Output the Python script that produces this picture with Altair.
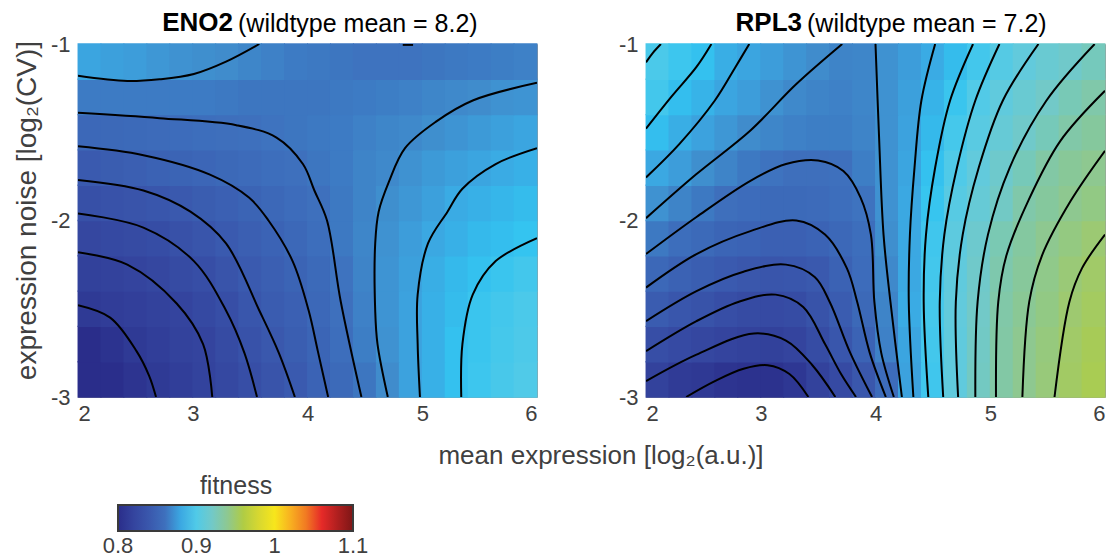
import altair as alt
import pandas as pd

# ---------------- data ----------------
X_CENTERS = [2.1, 2.3, 2.5, 2.7, 2.9, 3.1, 3.3, 3.5, 3.7, 3.9,
             4.1, 4.3, 4.5, 4.7, 4.9, 5.1, 5.3, 5.5, 5.7, 5.9]
Y_CENTERS = [-2.9, -2.7, -2.5, -2.3, -2.1, -1.9, -1.7, -1.5, -1.3, -1.1]
CELL_HALF = 0.104  # half cell size (tiny overlap hides seams)

ENO2_FITNESS = [
    [0.797, 0.801, 0.806, 0.811, 0.815, 0.819, 0.824, 0.830, 0.836, 0.842, 0.849, 0.855, 0.862, 0.870, 0.878, 0.883, 0.889, 0.893, 0.897, 0.900],
    [0.800, 0.805, 0.811, 0.815, 0.818, 0.820, 0.827, 0.834, 0.840, 0.845, 0.851, 0.858, 0.865, 0.872, 0.878, 0.883, 0.889, 0.892, 0.896, 0.899],
    [0.811, 0.814, 0.816, 0.818, 0.820, 0.825, 0.830, 0.838, 0.843, 0.847, 0.853, 0.860, 0.866, 0.873, 0.878, 0.883, 0.887, 0.892, 0.895, 0.898],
    [0.817, 0.818, 0.820, 0.823, 0.827, 0.830, 0.836, 0.842, 0.846, 0.850, 0.855, 0.861, 0.867, 0.873, 0.877, 0.882, 0.886, 0.889, 0.892, 0.895],
    [0.823, 0.825, 0.827, 0.829, 0.833, 0.837, 0.842, 0.846, 0.849, 0.853, 0.858, 0.863, 0.868, 0.872, 0.876, 0.880, 0.883, 0.886, 0.888, 0.890],
    [0.832, 0.834, 0.836, 0.838, 0.841, 0.844, 0.847, 0.850, 0.853, 0.857, 0.860, 0.863, 0.867, 0.871, 0.874, 0.877, 0.881, 0.883, 0.885, 0.887],
    [0.842, 0.844, 0.846, 0.848, 0.850, 0.852, 0.854, 0.856, 0.858, 0.860, 0.862, 0.864, 0.867, 0.869, 0.872, 0.875, 0.877, 0.879, 0.881, 0.883],
    [0.853, 0.854, 0.855, 0.856, 0.857, 0.858, 0.859, 0.860, 0.861, 0.862, 0.863, 0.864, 0.866, 0.868, 0.869, 0.871, 0.873, 0.875, 0.877, 0.879],
    [0.864, 0.864, 0.864, 0.864, 0.864, 0.864, 0.863, 0.862, 0.862, 0.862, 0.862, 0.863, 0.864, 0.865, 0.866, 0.868, 0.869, 0.870, 0.872, 0.873],
    [0.879, 0.877, 0.876, 0.874, 0.872, 0.871, 0.870, 0.868, 0.866, 0.864, 0.863, 0.862, 0.861, 0.861, 0.861, 0.862, 0.863, 0.864, 0.865, 0.866],
]

RPL3_FITNESS = [
    [0.818, 0.812, 0.810, 0.806, 0.804, 0.804, 0.809, 0.818, 0.826, 0.839, 0.857, 0.878, 0.894, 0.909, 0.922, 0.932, 0.940, 0.947, 0.953, 0.957],
    [0.830, 0.826, 0.823, 0.820, 0.818, 0.817, 0.820, 0.828, 0.838, 0.849, 0.866, 0.879, 0.895, 0.909, 0.921, 0.932, 0.940, 0.946, 0.952, 0.956],
    [0.843, 0.838, 0.835, 0.830, 0.827, 0.826, 0.828, 0.835, 0.843, 0.854, 0.867, 0.881, 0.896, 0.910, 0.920, 0.931, 0.938, 0.944, 0.950, 0.954],
    [0.853, 0.848, 0.845, 0.842, 0.839, 0.837, 0.838, 0.841, 0.848, 0.857, 0.869, 0.880, 0.895, 0.909, 0.919, 0.929, 0.936, 0.942, 0.948, 0.952],
    [0.863, 0.858, 0.855, 0.851, 0.849, 0.847, 0.847, 0.849, 0.853, 0.858, 0.871, 0.880, 0.894, 0.907, 0.917, 0.927, 0.934, 0.940, 0.945, 0.949],
    [0.872, 0.867, 0.863, 0.859, 0.857, 0.855, 0.855, 0.856, 0.858, 0.861, 0.872, 0.880, 0.891, 0.904, 0.913, 0.921, 0.930, 0.935, 0.940, 0.944],
    [0.880, 0.876, 0.871, 0.867, 0.863, 0.861, 0.859, 0.859, 0.860, 0.865, 0.872, 0.879, 0.889, 0.900, 0.910, 0.918, 0.925, 0.932, 0.937, 0.940],
    [0.888, 0.882, 0.878, 0.874, 0.870, 0.868, 0.866, 0.865, 0.865, 0.867, 0.872, 0.878, 0.886, 0.896, 0.905, 0.913, 0.919, 0.925, 0.931, 0.935],
    [0.895, 0.888, 0.884, 0.879, 0.876, 0.872, 0.869, 0.867, 0.866, 0.868, 0.872, 0.877, 0.884, 0.892, 0.901, 0.909, 0.915, 0.920, 0.926, 0.930],
    [0.898, 0.893, 0.889, 0.882, 0.879, 0.876, 0.873, 0.870, 0.867, 0.868, 0.872, 0.876, 0.881, 0.887, 0.895, 0.903, 0.910, 0.915, 0.919, 0.924],
]

# contour lines: (mean, noise) points
ENO2_CONTOURS = [
    [(2.00, -2.48), (2.28, -2.55), (2.51, -2.74), (2.62, -2.88), (2.68, -3.00)],
    [(2.00, -2.18), (2.43, -2.25), (2.86, -2.47), (3.09, -2.70), (3.17, -3.00)],
    [(2.00, -1.96), (2.57, -2.04), (3.01, -2.23), (3.29, -2.51), (3.45, -2.75), (3.56, -3.00)],
    [(2.00, -1.77), (2.57, -1.83), (2.98, -1.95), (3.29, -2.13), (3.58, -2.51), (3.75, -2.75), (3.89, -3.00)],
    [(2.00, -1.58), (2.57, -1.63), (3.15, -1.74), (3.49, -1.87), (3.66, -2.00), (3.87, -2.23), (4.01, -2.51), (4.09, -2.74), (4.18, -3.00)],
    [(2.00, -1.39), (2.71, -1.42), (3.38, -1.46), (3.73, -1.53), (3.96, -1.68), (4.06, -1.83), (4.17, -2.00), (4.29, -2.46), (4.47, -3.00)],
    [(2.00, -1.18), (2.43, -1.21), (2.71, -1.20), (3.01, -1.17), (3.29, -1.10), (3.58, -1.00)],
    [(4.70, -3.00), (4.61, -2.70), (4.59, -2.51), (4.59, -2.13), (4.62, -1.95), (4.71, -1.78), (4.85, -1.59), (5.12, -1.44), (5.44, -1.32), (6.00, -1.22)],
    [(4.98, -3.00), (4.96, -2.70), (4.96, -2.42), (5.05, -2.13), (5.22, -1.95), (5.35, -1.82), (5.64, -1.68), (6.00, -1.59)],
    [(5.34, -3.00), (5.35, -2.70), (5.44, -2.42), (5.64, -2.23), (6.00, -2.10)],
    [(4.83, -1.005), (4.92, -1.005)],
]

RPL3_CONTOURS = [
    [(2.00, -1.104), (2.06, -1.05), (2.13, -1.00)],
    [(2.00, -1.48), (2.22, -1.30), (2.44, -1.13), (2.57, -1.00)],
    [(2.00, -1.756), (2.29, -1.567), (2.60, -1.32), (2.78, -1.13), (2.90, -1.00)],
    [(2.00, -1.987), (2.44, -1.737), (2.91, -1.49), (3.31, -1.227), (3.71, -1.00)],
    [(2.00, -2.19), (2.44, -1.98), (2.91, -1.775), (3.22, -1.68), (3.50, -1.66), (3.72, -1.72), (3.87, -1.87), (3.96, -2.08), (3.99, -2.46), (4.05, -2.75), (4.16, -3.00)],
    [(2.00, -2.38), (2.44, -2.19), (2.91, -2.06), (3.31, -2.00), (3.56, -2.08), (3.75, -2.27), (3.84, -2.46), (3.95, -2.75), (4.09, -3.00)],
    [(2.00, -2.57), (2.44, -2.40), (2.85, -2.29), (3.22, -2.25), (3.47, -2.32), (3.60, -2.46), (3.78, -2.75), (3.97, -3.00)],
    [(2.00, -2.74), (2.44, -2.57), (2.81, -2.46), (3.13, -2.42), (3.37, -2.49), (3.56, -2.70), (3.70, -2.87), (3.83, -3.00)],
    [(2.00, -2.91), (2.44, -2.76), (2.94, -2.64), (3.22, -2.68), (3.45, -2.82), (3.65, -3.00)],
    [(2.35, -3.00), (2.60, -2.91), (2.85, -2.84), (3.06, -2.82), (3.25, -2.87), (3.415, -3.00)],
    [(4.00, -1.00), (4.03, -1.51), (4.07, -2.08), (4.13, -2.46), (4.23, -3.00)],
    [(4.52, -1.00), (4.40, -1.32), (4.34, -1.70), (4.30, -2.08), (4.29, -2.46), (4.33, -3.00)],
    [(4.85, -1.00), (4.65, -1.32), (4.52, -1.70), (4.44, -2.08), (4.42, -2.46), (4.46, -3.00)],
    [(5.08, -1.00), (4.87, -1.32), (4.71, -1.70), (4.60, -2.08), (4.56, -2.46), (4.59, -3.00)],
    [(5.42, -1.00), (5.11, -1.32), (4.90, -1.70), (4.76, -2.08), (4.70, -2.46), (4.72, -3.00)],
    [(5.91, -1.00), (5.49, -1.32), (5.17, -1.70), (4.98, -2.08), (4.89, -2.46), (4.87, -3.00)],
    [(6.00, -1.265), (5.61, -1.55), (5.33, -1.89), (5.14, -2.20), (5.07, -2.46), (5.05, -3.00)],
    [(6.00, -1.605), (5.70, -1.89), (5.45, -2.20), (5.34, -2.46), (5.28, -3.00)],
    [(6.00, -2.08), (5.80, -2.27), (5.69, -2.46), (5.56, -3.00)],
]

X_TICKS = [2, 3, 4, 5, 6]
Y_TICKS = [-3, -2, -1]
CBAR_LABELS = [0.8, 0.9, 1.0, 1.1]
CBAR_LABEL_TEXT = ["0.8", "0.9", "1", "1.1"]
CBAR_MINOR = [0.85, 0.9, 0.95, 1.0, 1.05]
CBAR_MIN, CBAR_MAX = 0.8, 1.1
COLOR_STOPS = [0.80, 0.82, 0.84, 0.86, 0.87, 0.88, 0.89, 0.90, 0.91, 0.92, 0.93, 0.94, 0.95, 0.96,
               0.98, 1.00, 1.03, 1.06, 1.10]
COLOR_VALUES = ["#2a2d8a", "#34449e", "#3a58ad", "#3e70bd", "#408ccc", "#3ba8e2", "#34c4f0", "#50cae8",
                "#62cadc", "#72c9c8", "#80c8aa", "#8ec890", "#9ec970", "#b0cc44",
                "#d8d830", "#f7e61c", "#f3982a", "#e62a28", "#7d1616"]

PANELS = [
    ("ENO2", "(wildtype mean = 8.2)", ENO2_FITNESS, ENO2_CONTOURS),
    ("RPL3", "(wildtype mean = 7.2)", RPL3_FITNESS, RPL3_CONTOURS),
]

FONT = "Liberation Sans"
GREY = "#404040"
W, H = 459, 353
# colorbar geometry (pixels, relative to the left panel's plot area)
CB_X, CB_Y, CB_LEN, CB_THICK = 40, 459, 235, 26


def cells_frame(grid):
    rows = []
    for yi, yc in enumerate(Y_CENTERS):
        for xi, xc in enumerate(X_CENTERS):
            rows.append({"x0": xc - CELL_HALF, "x1": xc + CELL_HALF,
                         "y0": yc - CELL_HALF, "y1": yc + CELL_HALF,
                         "fitness": grid[yi][xi]})
    return pd.DataFrame(rows)


def lines_frame(contours):
    rows = []
    for ci, pts in enumerate(contours):
        for pi, (mx, ny) in enumerate(pts):
            rows.append({"line": ci, "i": pi, "mx": mx, "ny": ny})
    return pd.DataFrame(rows)


def cb_px(v):
    return CB_X + (v - CBAR_MIN) / (CBAR_MAX - CBAR_MIN) * CB_LEN


def panel(idx):
    gene, rest, grid, contours = PANELS[idx]
    xs = alt.Scale(domain=[2, 6], nice=False, zero=False)
    ys = alt.Scale(domain=[-3, -1], nice=False, zero=False)
    color_scale = alt.Scale(domain=COLOR_STOPS, range=COLOR_VALUES, clamp=True)
    if idx == 0:
        legend = alt.Legend(
            title="fitness", orient="none", direction="horizontal",
            legendX=CB_X, legendY=CB_Y - 29, gradientLength=CB_LEN, gradientThickness=CB_THICK,
            gradientStrokeColor="#3a3a3a", gradientStrokeWidth=2,
            values=CBAR_LABELS, labelOpacity=0, labelFontSize=1,
            titleFont=FONT, titleFontSize=25, titleFontWeight="normal", titleColor=GREY,
            titleAnchor="middle", titlePadding=6,
        )
        yaxis = alt.Axis(values=Y_TICKS, labelExpr="datum.value", title="expression noise [log₂(CV)]",
                         titleFont=FONT, titleFontSize=28, titleFontWeight="normal", titleColor=GREY,
                         titlePadding=9, titleY=166,
                         labelFont=FONT, labelFontSize=22, labelColor=GREY, labelPadding=8,
                         ticks=False, domain=False, grid=False)
    else:
        legend = None
        yaxis = alt.Axis(values=Y_TICKS, labelExpr="datum.value", title=None,
                         labelFont=FONT, labelFontSize=22, labelColor=GREY, labelPadding=8,
                         ticks=False, domain=False, grid=False)
    xaxis = alt.Axis(values=X_TICKS, labelExpr="datum.value", title=None, labelFont=FONT,
                     labelFontSize=22, labelColor=GREY,
                     labelPadding=6, ticks=False, domain=False, grid=False)

    heat = alt.Chart(cells_frame(grid)).mark_rect(strokeWidth=0).encode(
        x=alt.X("x0:Q", scale=xs, axis=xaxis),
        x2="x1:Q",
        y=alt.Y("y0:Q", scale=ys, axis=yaxis),
        y2="y1:Q",
        color=alt.Color("fitness:Q", scale=color_scale, legend=legend),
    )
    lines = alt.Chart(lines_frame(contours)).mark_line(
        color="black", strokeWidth=2, interpolate="catmull-rom", clip=True
    ).encode(
        x=alt.X("mx:Q", scale=xs),
        y=alt.Y("ny:Q", scale=ys),
        detail="line:N",
        order="i:Q",
    )
    split = 155 if idx == 0 else 156
    t1 = alt.Chart(pd.DataFrame({"t": [gene]})).mark_text(
        font=FONT, fontSize=26, fontWeight="bold", align="right", baseline="middle", color="black"
    ).encode(text="t:N", x=alt.value(split), y=alt.value(-21))
    t2 = alt.Chart(pd.DataFrame({"t": [rest]})).mark_text(
        font=FONT, fontSize=25, fontWeight="normal", align="left", baseline="middle", color="black"
    ).encode(text="t:N", x=alt.value(split + 5), y=alt.value(-20))
    layers = [heat, lines, t1, t2]
    if idx == 0:
        xt = alt.Chart(pd.DataFrame({"t": ["mean expression [log₂(a.u.)]"]})).mark_text(
            font=FONT, fontSize=26, align="center", baseline="middle", color=GREY
        ).encode(text="t:N", x=alt.value(523), y=alt.value(412))
        layers.append(xt)
        # colorbar tick labels, centred under their values
        for v, txt in zip(CBAR_LABELS, CBAR_LABEL_TEXT):
            layers.append(alt.Chart(pd.DataFrame({"t": [txt]})).mark_text(
                font=FONT, fontSize=22, align="center", baseline="middle", color=GREY
            ).encode(text="t:N", x=alt.value(cb_px(v)), y=alt.value(CB_Y + CB_THICK + 17)))
        # small inward ticks along the lower edge of the colorbar
        for v in CBAR_MINOR:
            layers.append(alt.Chart(pd.DataFrame({"v": [v]})).mark_rule(
                color="#3a3a3a", strokeWidth=1.5
            ).encode(x=alt.value(cb_px(v)), y=alt.value(CB_Y + CB_THICK - 5),
                     y2=alt.value(CB_Y + CB_THICK)))
    return alt.layer(*layers).properties(width=W, height=H)


chart = alt.hconcat(panel(0), panel(1), spacing=109, bounds="flush").resolve_scale(
    color="independent"
).configure_view(stroke="#9a9a9a", strokeWidth=1).properties(
    padding={"left": 4, "top": 1, "right": 0, "bottom": 0}
)

chart.save("out.html", embed_options={"renderer": "svg", "actions": False})
